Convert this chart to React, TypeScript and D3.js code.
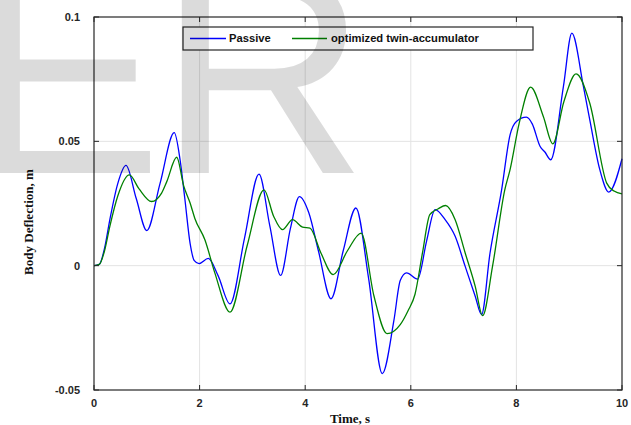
import React from "react";
import * as d3 from "d3";

const passiveT = [0, 0.1, 0.2, 0.3, 0.45, 0.606, 0.8, 1.0, 1.25, 1.52, 1.63, 1.72, 1.82, 1.9, 1.99, 2.165, 2.35, 2.576, 2.85, 3.125, 3.33, 3.535, 3.72, 3.89, 4.07, 4.25, 4.49, 4.72, 4.96, 5.2, 5.46, 5.68, 5.8, 5.92, 6.13, 6.3, 6.46, 6.65, 6.84, 7.03, 7.22, 7.34, 7.5, 7.72, 7.88, 8.0, 8.19, 8.3, 8.45, 8.54, 8.65, 8.89, 9.05, 9.27, 9.39, 9.58, 9.75, 10];
const passiveV = [0, 0.0005, 0.007, 0.0185, 0.033, 0.0403, 0.027, 0.0141, 0.033, 0.0535, 0.0426, 0.027, 0.009, 0.002, 0.0008, 0.0029, -0.004, -0.0154, 0.011, 0.0368, 0.016, -0.0039, 0.015, 0.0278, 0.0212, 0.006, -0.0133, 0.006, 0.0232, -0.005, -0.0434, -0.022, -0.006, -0.0029, -0.0054, 0.01, 0.0225, 0.0185, 0.0118, -0.0003, -0.0123, -0.0197, 0.005, 0.0305, 0.0526, 0.058, 0.0597, 0.057, 0.0479, 0.0457, 0.0426, 0.072, 0.0935, 0.072, 0.0586, 0.0386, 0.0296, 0.043];

const optT = [0, 0.1, 0.2, 0.3, 0.45, 0.67, 0.85, 1.09, 1.28, 1.38, 1.566, 1.7, 1.82, 1.91, 2.1, 2.29, 2.576, 2.9, 3.22, 3.4, 3.57, 3.76, 3.95, 4.09, 4.3, 4.53, 4.8, 5.06, 5.3, 5.55, 5.8, 5.95, 6.08, 6.22, 6.36, 6.52, 6.66, 6.84, 7.03, 7.22, 7.36, 7.55, 7.78, 7.88, 8.05, 8.27, 8.51, 8.69, 8.9, 9.13, 9.39, 9.71, 9.85, 10];
const optV = [0, 0.0005, 0.006, 0.0158, 0.028, 0.0365, 0.031, 0.0258, 0.0292, 0.0339, 0.0436, 0.032, 0.0252, 0.019, 0.0104, -0.003, -0.0187, 0.008, 0.0305, 0.02, 0.0145, 0.0185, 0.0155, 0.0151, 0.005, -0.0036, 0.006, 0.0131, -0.012, -0.0273, -0.0237, -0.018, -0.0115, 0.005, 0.0205, 0.0229, 0.0242, 0.0185, 0.0051, -0.0083, -0.0201, 0.0, 0.0305, 0.0386, 0.057, 0.0718, 0.06, 0.049, 0.066, 0.0771, 0.0653, 0.0332, 0.03, 0.0289];

const xTicks = [0, 2, 4, 6, 8, 10];
const yTicks = [-0.05, 0, 0.05, 0.1];
const yTickLabels = ["-0.05", "0", "0.05", "0.1"];
const seriesNames = ["Passive", "optimized twin-accumulator"];
const seriesColors = ["#0000ff", "#008000"];

export default function App() {
  const W = 631, H = 425;
  const x = d3.scaleLinear().domain([0, 10]).range([94, 622]);
  const y = d3.scaleLinear().domain([-0.05, 0.1]).range([390, 17]);
  const line = d3
    .line<[number, number]>()
    .x((d) => x(d[0]))
    .y((d) => y(d[1]))
    .curve(d3.curveMonotoneX);
  const pData = passiveT.map((t, i) => [t, passiveV[i]] as [number, number]);
  const oData = optT.map((t, i) => [t, optV[i]] as [number, number]);
  const axisColor = "#262626";
  const tickFont = "'Liberation Sans', Arial, sans-serif";
  const serif = "'Liberation Serif', 'Times New Roman', serif";
  return (
    <svg width={W} height={H} style={{ position: "absolute", left: 0, top: 0, background: "#fff" }}>
      <rect x={0} y={0} width={W} height={H} fill="#fff" />
      {xTicks.slice(1, -1).map((t) => (
        <line key={"gx" + t} x1={x(t)} x2={x(t)} y1={y(0.1)} y2={y(-0.05)} stroke="#e3e3e3" strokeWidth={1} />
      ))}
      {yTicks.slice(1, -1).map((t) => (
        <line key={"gy" + t} x1={x(0)} x2={x(10)} y1={y(t)} y2={y(t)} stroke="#e3e3e3" strokeWidth={1} />
      ))}
      <path d={line(pData) || ""} fill="none" stroke={seriesColors[0]} strokeWidth={1.3} />
      <path d={line(oData) || ""} fill="none" stroke={seriesColors[1]} strokeWidth={1.3} />
      <rect x={x(0)} y={y(0.1)} width={x(10) - x(0)} height={y(-0.05) - y(0.1)} fill="none" stroke={axisColor} strokeWidth={1.2} />
      {xTicks.map((t) => (
        <g key={"tx" + t}>
          <line x1={x(t)} x2={x(t)} y1={y(-0.05)} y2={y(-0.05) - 5} stroke={axisColor} />
          <line x1={x(t)} x2={x(t)} y1={y(0.1)} y2={y(0.1) + 5} stroke={axisColor} />
          <text x={x(t)} y={407} textAnchor="middle" fontFamily={tickFont} fontWeight="bold" fontSize={11} fill={axisColor}>
            {String(t)}
          </text>
        </g>
      ))}
      {yTicks.map((t, i) => (
        <g key={"ty" + t}>
          <line x1={x(0)} x2={x(0) + 5} y1={y(t)} y2={y(t)} stroke={axisColor} />
          <line x1={x(10)} x2={x(10) - 5} y1={y(t)} y2={y(t)} stroke={axisColor} />
          <text x={80} y={y(t) + 4} textAnchor="end" fontFamily={tickFont} fontWeight="bold" fontSize={11} fill={axisColor}>
            {yTickLabels[i]}
          </text>
        </g>
      ))}
      <text x={350} y={423} textAnchor="middle" fontFamily={serif} fontWeight="bold" fontSize={13} fill="#111">
        Time, s
      </text>
      <text transform="translate(33,222) rotate(-90)" textAnchor="middle" fontFamily={serif} fontWeight="bold" fontSize={13} fill="#111">
        Body Deflection, m
      </text>
      <rect x={183} y={27} width={350} height={23} fill="#fff" stroke={axisColor} strokeWidth={1.2} />
      <line x1={190} x2={226} y1={38.5} y2={38.5} stroke={seriesColors[0]} strokeWidth={1.3} />
      <text x={229} y={42} fontFamily={tickFont} fontWeight="bold" fontSize={11.2} fill="#111">{seriesNames[0]}</text>
      <line x1={292} x2={327} y1={38.5} y2={38.5} stroke={seriesColors[1]} strokeWidth={1.3} />
      <text x={331} y={42} fontFamily={tickFont} fontWeight="bold" fontSize={11.2} fill="#111">{seriesNames[1]}</text>
      <text x="-31 158" y={173} fontFamily="'Liberation Sans', Arial, sans-serif" fontSize={290} fill="#000" fillOpacity={0.14}>
        ER
      </text>
    </svg>
  );
}
